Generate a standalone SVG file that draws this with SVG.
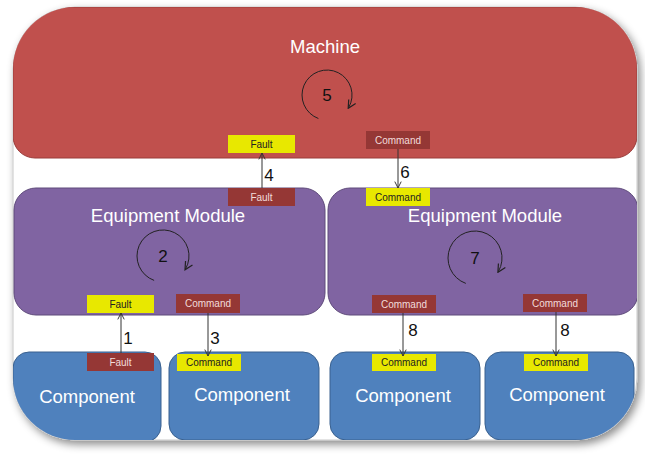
<svg xmlns="http://www.w3.org/2000/svg" width="645" height="454" viewBox="0 0 645 454">
<style>
.t{font-family:"Liberation Sans",Arial,sans-serif;fill:#fff;text-anchor:middle}
.big{font-size:18.5px}
.lbl{font-family:"Liberation Sans",Arial,sans-serif;font-size:10px;text-anchor:middle}
.num{font-family:"Liberation Sans",Arial,sans-serif;font-size:17px;fill:#111;text-anchor:middle}
.mach{fill:#C0504D;stroke:#9A3C3A;stroke-width:1}
.em{fill:#8064A2;stroke:#5E4A7A;stroke-width:1}
.comp{fill:#4F81BD;stroke:#3A618F;stroke-width:1}
.y rect{fill:#E8E800}
.y text{fill:#222}
.r rect{fill:#953735}
.r text{fill:#F2DCDB}
.c{stroke:#333;stroke-width:1;fill:none}
.cyc{stroke:#222;stroke-width:1;fill:none}
</style>
<defs>
<filter id="sh" x="-5%" y="-5%" width="112%" height="115%">
<feDropShadow dx="3" dy="4" stdDeviation="4" flood-color="#000" flood-opacity="0.45"/>
</filter>
<clipPath id="fr"><rect x="13" y="7" width="624" height="433" rx="62" ry="62"/></clipPath>
<marker id="ah" viewBox="0 0 10 10" refX="9" refY="5" markerWidth="8" markerHeight="8" orient="auto" markerUnits="userSpaceOnUse">
<path d="M1,1 L9,5 L1,9" fill="none" stroke="#333" stroke-width="1.2"/>
</marker>
<marker id="ah2" viewBox="0 0 10 10" refX="8" refY="5" markerWidth="10" markerHeight="10" orient="auto" markerUnits="userSpaceOnUse">
<path d="M1,1 L9,5 L1,9" fill="none" stroke="#222" stroke-width="1.2"/>
</marker>
<linearGradient id="gm" x1="0" y1="0" x2="0" y2="1">
<stop offset="0" stop-color="#D46A67"/><stop offset="0.06" stop-color="#C0504D"/><stop offset="1" stop-color="#BE4F4C"/>
</linearGradient>
</defs>
<rect x="13" y="7" width="624" height="433" rx="62" ry="62" fill="#fff" stroke="#c8c8c8" filter="url(#sh)"/>
<g clip-path="url(#fr)">
<g id="machine">
<rect class="mach" x="13" y="7" width="624" height="151" rx="22" ry="22" fill="url(#gm)"/>
<text class="t big" x="325" y="53">Machine</text>
<path class="cyc" d="M318.4,118.5 A25,25 0 1 1 348.7,107.5" marker-end="url(#ah2)"/>
<text class="num" x="327" y="101">5</text>
<g class="y"><rect x="228" y="135" width="67" height="18"/><text x="261.5" y="147.5" class="lbl">Fault</text></g>
<g class="r"><rect x="366" y="131" width="64" height="18"/><text x="398" y="143.5" class="lbl">Command</text></g>
</g>
<g id="em-left">
<rect class="em" x="14" y="188" width="311" height="127" rx="22" ry="22"/>
<text class="t big" x="168" y="222">Equipment Module</text>
<path class="cyc" d="M154.1,280.4 A26,26 0 1 1 185.5,269" marker-end="url(#ah2)"/>
<text class="num" x="163" y="262">2</text>
<g class="r"><rect x="228" y="188" width="67" height="18"/><text x="261.5" y="200.5" class="lbl">Fault</text></g>
<g class="y"><rect x="87" y="295" width="67" height="18"/><text x="120.5" y="307.5" class="lbl">Fault</text></g>
<g class="r"><rect x="176" y="294" width="64" height="19"/><text x="208" y="307" class="lbl">Command</text></g>
</g>
<g id="em-right">
<rect class="em" x="328" y="188" width="310" height="127" rx="22" ry="22"/>
<text class="t big" x="485" y="222">Equipment Module</text>
<path class="cyc" d="M465.8,283.4 A27,27 0 1 1 498.4,271.5" marker-end="url(#ah2)"/>
<text class="num" x="475" y="264">7</text>
<g class="y"><rect x="366" y="188" width="64" height="18"/><text x="398" y="200.5" class="lbl">Command</text></g>
<g class="r"><rect x="372" y="295" width="64" height="18"/><text x="404" y="307.5" class="lbl">Command</text></g>
<g class="r"><rect x="523" y="294" width="64" height="18"/><text x="555" y="306.5" class="lbl">Command</text></g>
</g>
<g id="comp1">
<rect class="comp" x="13" y="352" width="148" height="90" rx="16" ry="16"/>
<text class="t big" x="87" y="403">Component</text>
<g class="r"><rect x="87" y="353" width="67" height="18"/><text x="120.5" y="365.5" class="lbl">Fault</text></g>
</g>
<g id="comp2">
<rect class="comp" x="169" y="352" width="150" height="88" rx="16" ry="16"/>
<text class="t big" x="242" y="401">Component</text>
<g class="y"><rect x="177" y="354" width="64" height="17"/><text x="209" y="366" class="lbl">Command</text></g>
</g>
<g id="comp3">
<rect class="comp" x="330" y="352" width="150" height="88" rx="16" ry="16"/>
<text class="t big" x="403" y="402">Component</text>
<g class="y"><rect x="372" y="354" width="64" height="17"/><text x="404" y="366" class="lbl">Command</text></g>
</g>
<g id="comp4">
<rect class="comp" x="485" y="352" width="149" height="88" rx="16" ry="16"/>
<text class="t big" x="557" y="401">Component</text>
<g class="y"><rect x="524" y="354" width="64" height="17"/><text x="556" y="366" class="lbl">Command</text></g>
</g>
</g>
<g id="connectors">
<line class="c" x1="262" y1="188" x2="262" y2="153" marker-end="url(#ah)"/>
<text class="num" x="269" y="181">4</text>
<line class="c" x1="398" y1="149" x2="398" y2="188" marker-end="url(#ah)"/>
<text class="num" x="405" y="178">6</text>
<line class="c" x1="121" y1="353" x2="121" y2="313" marker-end="url(#ah)"/>
<text class="num" x="128" y="344">1</text>
<line class="c" x1="208" y1="313" x2="208" y2="356" marker-end="url(#ah)"/>
<text class="num" x="215" y="344">3</text>
<line class="c" x1="403" y1="313" x2="403" y2="356" marker-end="url(#ah)"/>
<text class="num" x="413" y="336">8</text>
<line class="c" x1="556" y1="312" x2="556" y2="356" marker-end="url(#ah)"/>
<text class="num" x="565" y="336">8</text>
</g>
</svg>
